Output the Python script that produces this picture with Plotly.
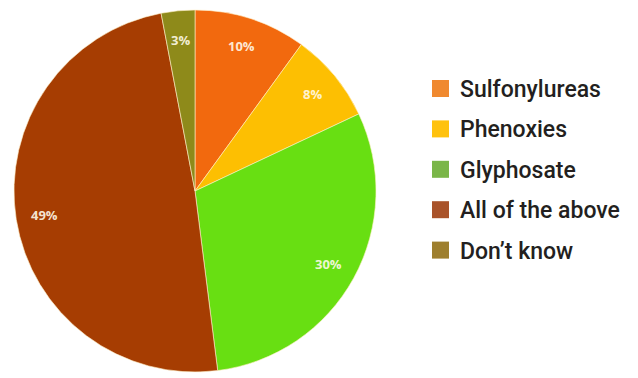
import math
import plotly.graph_objects as go

# Survey answers and their shares (percent)
categories = ["Sulfonylureas", "Phenoxies", "Glyphosate", "All of the above", "Don\u2019t know"]
shares = [10, 8, 30, 49, 3]

# Slice fills and the (flatter) legend swatch colours
slice_colors = ["#F2690E", "#FDBF02", "#68DF12", "#A63D02", "#8E8A1A"]
legend_colors = ["#F0892F", "#FFC20E", "#7AB648", "#A9532A", "#9E7F2E"]

W, H = 638, 378
cx, cy, R = 195, 191, 181  # pie centre and radius in pixels


def px(x):
    return x / W


def py(y):
    return 1 - y / H


fig = go.Figure()
fig.add_trace(go.Pie(
    labels=categories,
    values=shares,
    sort=False,
    direction="clockwise",
    rotation=0,
    marker=dict(colors=slice_colors, line=dict(color="rgba(255,240,200,0.6)", width=1)),
    textinfo="none",
    hoverinfo="label+percent",
    showlegend=False,
    domain=dict(x=[px(cx - R), px(cx + R)], y=[py(cy + R), py(cy - R)]),
))

annotations = []
# Percentage labels placed near the rim of each slice
total = sum(shares)
start = 0.0
for v in shares:
    mid = (start + v / 2) / total * 2 * math.pi
    start += v
    r = 0.84 * R
    lx = cx + r * math.sin(mid)
    ly = cy - r * math.cos(mid)
    annotations.append(dict(
        x=px(lx), y=py(ly), xref="paper", yref="paper",
        text=f"<b>{v}%</b>", showarrow=False,
        font=dict(family="Open Sans", size=13, color="rgba(255,250,235,0.9)"),
        xanchor="center", yanchor="middle",
    ))

# Hand-drawn legend: square swatch plus label per category
shapes = []
leg_x, leg_y0, leg_step, sw = 432, 88.5, 40.4, 17
for i, (name, col) in enumerate(zip(categories, legend_colors)):
    yc = leg_y0 + i * leg_step
    shapes.append(dict(
        type="rect", xref="paper", yref="paper",
        x0=px(leg_x), x1=px(leg_x + sw), y0=py(yc + sw / 2), y1=py(yc - sw / 2),
        fillcolor=col, line=dict(width=0),
    ))
    annotations.append(dict(
        x=px(leg_x + 26), y=py(yc + 1), xref="paper", yref="paper",
        text=name, showarrow=False,
        font=dict(family="Roboto", size=23, weight=500, color="#231F20"),
        xanchor="left", yanchor="middle",
    ))

fig.update_layout(
    width=W, height=H,
    margin=dict(l=0, r=0, t=0, b=0),
    paper_bgcolor="white",
    plot_bgcolor="white",
    shapes=shapes,
    annotations=annotations,
)

fig.write_html("out.html")
